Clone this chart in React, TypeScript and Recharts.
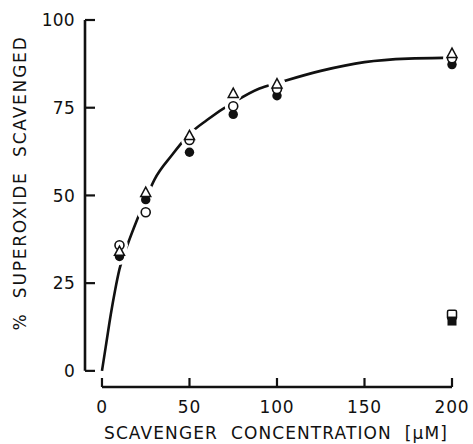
import React from "react";
import { ComposedChart, Line, XAxis, YAxis, ReferenceLine, Label } from "recharts";

// scavenger concentration (uM) for the measured points
const concentration = [10, 25, 50, 75, 100, 200];
const openCircle = [35.8, 45.2, 65.8, 75.4, 80.3, 89.1];
const filledCircle = [32.6, 48.8, 62.3, 73.1, 78.4, 87.3];
const openTriangle = [34, 50.8, 67, 79, 81.7, 90.4];

// controls at the highest concentration
const squareConc = [200];
const openSquare = [16];
const filledSquare = [14.2];

// hand-drawn fit curve
const curveConc = [0, 2.5, 5, 7.5, 10, 15, 20, 25, 30, 40, 50, 60, 75, 90, 100, 125, 150, 175, 195];
const curveVals = [0, 8, 16, 23, 29, 36.5, 43, 49, 54.5, 61.5, 67.5, 71.5, 76.5, 80.5, 82, 85.5, 88, 89, 89.2];

const xTicks = [0, 50, 100, 150, 200];
const yTicks = [0, 25, 50, 75, 100];

// axes are detached from the plot: x-axis sits below 0, y-axis left of 0
const X_MIN = -9.7;
const Y_MIN = -4.6;

const INK = "#111";
const FONT = "'DejaVu Sans', sans-serif";

const toPoints = (xs: number[], ys: number[]) => xs.map((x, i) => ({ x, y: ys[i] }));

const curveData = toPoints(curveConc, curveVals);
const openCircleData = toPoints(concentration, openCircle);
const filledCircleData = toPoints(concentration, filledCircle);
const triangleData = toPoints(concentration, openTriangle);
const openSquareData = toPoints(squareConc, openSquare);
const filledSquareData = toPoints(squareConc, filledSquare);
const haloData = [
  ...openCircleData,
  ...filledCircleData,
  ...triangleData,
  ...openSquareData,
  ...filledSquareData,
];

const Halo = (p: any) => <circle key={p.key} cx={p.cx} cy={p.cy} r={8.5} fill="#fff" />;
const OpenDot = (p: any) => (
  <circle key={p.key} cx={p.cx} cy={p.cy} r={4.5} fill="#fff" stroke={INK} strokeWidth={1.6} />
);
const FilledDot = (p: any) => <circle key={p.key} cx={p.cx} cy={p.cy} r={4.7} fill={INK} />;
const Triangle = (p: any) => (
  <polygon
    key={p.key}
    points={`${p.cx},${p.cy - 5.5} ${p.cx + 5},${p.cy + 3.8} ${p.cx - 5},${p.cy + 3.8}`}
    fill="#fff"
    stroke={INK}
    strokeWidth={1.5}
  />
);
const OpenSquare = (p: any) => (
  <rect key={p.key} x={p.cx - 4.5} y={p.cy - 4.5} width={9} height={9} rx={1.5} fill="#fff" stroke={INK} strokeWidth={1.5} />
);
const FilledSquare = (p: any) => (
  <rect key={p.key} x={p.cx - 4.5} y={p.cy - 4.5} width={9} height={9} fill={INK} />
);

const YTick = (props: any) => {
  const { x, y, payload } = props;
  return (
    <g>
      <line x1={x} x2={x + 10} y1={y} y2={y} stroke={INK} strokeWidth={2.2} />
      <text
        x={x - 10}
        y={y}
        dy="0.36em"
        textAnchor="end"
        fill={INK}
        fontSize={17}
        fontFamily={FONT}
        letterSpacing={0.3}
      >
        {payload.value}
      </text>
    </g>
  );
};

const XTick = (props: any) => {
  const { x, y, payload } = props;
  return (
    <g>
      <line x1={x} x2={x} y1={y} y2={y - 9} stroke={INK} strokeWidth={2.2} />
      <text
        x={x}
        y={y + 26}
        textAnchor="middle"
        fill={INK}
        fontSize={17}
        fontFamily={FONT}
        letterSpacing={0.8}
      >
        {payload.value}
      </text>
    </g>
  );
};

// markers are drawn as stroke-less lines so they share the curve's layer and order
const markerLine = (data: { x: number; y: number }[], shape: (p: any) => React.ReactElement) => (
  <Line
    data={data}
    dataKey="y"
    stroke="none"
    dot={shape}
    activeDot={false}
    legendType="none"
    isAnimationActive={false}
  />
);

export default function App() {
  return (
    <div style={{ position: "absolute", left: 0, top: 0, width: 473, height: 444, background: "#fff" }}>
      <ComposedChart width={473} height={444} margin={{ top: 20, right: 21, bottom: 0, left: 0 }}>
        <XAxis
          type="number"
          dataKey="x"
          domain={[X_MIN, 200]}
          ticks={xTicks}
          axisLine={false}
          tickLine={false}
          tickSize={0}
          tickMargin={0}
          tick={<XTick />}
          height={57}
        >
          <Label
            content={() => (
              <text
                x={276}
                y={439}
                textAnchor="middle"
                fill={INK}
                fontSize={17}
                fontFamily={FONT}
                letterSpacing={1.1}
                style={{ whiteSpace: "pre" }}
              >
                {"SCAVENGER  CONCENTRATION  [µM]"}
              </text>
            )}
          />
        </XAxis>
        <YAxis
          type="number"
          domain={[Y_MIN, 100]}
          ticks={yTicks}
          axisLine={false}
          tickLine={false}
          tickSize={0}
          tickMargin={0}
          tick={<YTick />}
          width={85}
        >
          <Label
            content={() => (
              <text
                transform="translate(26,183) rotate(-90)"
                textAnchor="middle"
                fill={INK}
                fontSize={17}
                fontFamily={FONT}
                letterSpacing={1.8}
                style={{ whiteSpace: "pre" }}
              >
                {"%  SUPEROXIDE  SCAVENGED"}
              </text>
            )}
          />
        </YAxis>
        <ReferenceLine
          segment={[{ x: X_MIN, y: 0 }, { x: X_MIN, y: 100 }]}
          stroke={INK}
          strokeWidth={2.6}
          ifOverflow="visible"
        />
        <ReferenceLine
          segment={[{ x: 0, y: Y_MIN }, { x: 200, y: Y_MIN }]}
          stroke={INK}
          strokeWidth={2.6}
          ifOverflow="visible"
        />
        <Line
          data={curveData}
          dataKey="y"
          type="monotone"
          stroke={INK}
          strokeWidth={2.6}
          dot={false}
          activeDot={false}
          isAnimationActive={false}
        />
        {markerLine(haloData, Halo)}
        {markerLine(filledCircleData, FilledDot)}
        {markerLine(openCircleData, OpenDot)}
        {markerLine(triangleData, Triangle)}
        {markerLine(openSquareData, OpenSquare)}
        {markerLine(filledSquareData, FilledSquare)}
      </ComposedChart>
    </div>
  );
}
